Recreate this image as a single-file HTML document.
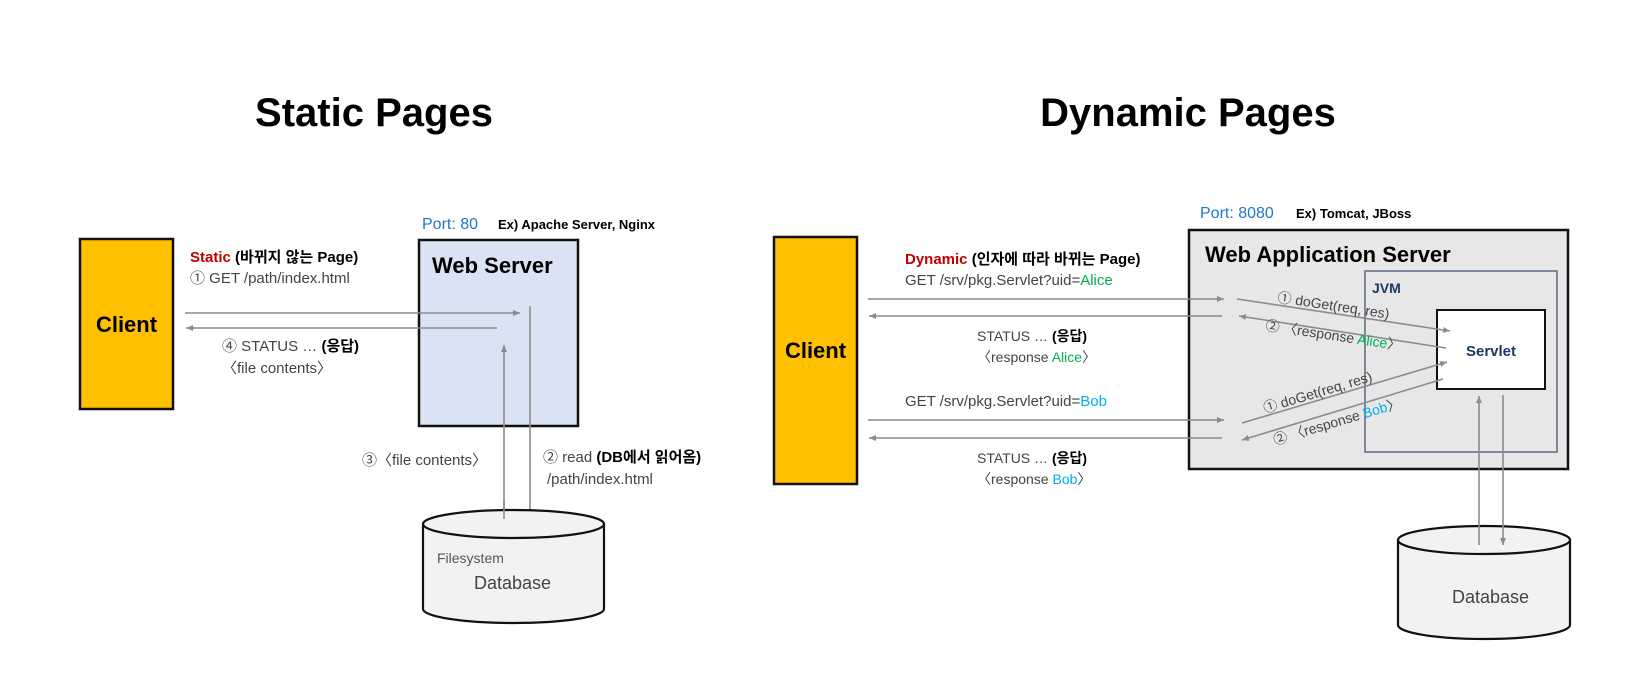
<!DOCTYPE html>
<html><head><meta charset="utf-8"><style>
html,body{margin:0;padding:0;background:#fff;}
svg{display:block;}
text{font-family:"Liberation Sans","Noto Sans CJK KR",sans-serif;}
</style></head><body>
<svg width="1634" height="674" viewBox="0 0 1634 674" xmlns="http://www.w3.org/2000/svg">
<defs>
<marker id="ah" markerWidth="8" markerHeight="8" refX="7" refY="4" orient="auto" markerUnits="userSpaceOnUse">
<path d="M0,1 L7,4 L0,7 z" fill="#8c8c8c"/></marker>
</defs>
<!-- Titles -->
<text x="374" y="126" font-size="40" font-weight="bold" text-anchor="middle" fill="#000">Static Pages</text>
<text x="1188" y="126" font-size="40" font-weight="bold" text-anchor="middle" fill="#000">Dynamic Pages</text>

<!-- STATIC -->
<rect x="80" y="239" width="93" height="170" fill="#ffc000" stroke="#111" stroke-width="2.5"/>
<text x="126.5" y="332" font-size="22" font-weight="bold" text-anchor="middle">Client</text>
<rect x="419" y="240" width="159" height="186" fill="#dae3f3" stroke="#111" stroke-width="2.5"/>
<text x="432" y="273" font-size="22" font-weight="bold">Web Server</text>
<text x="422" y="229" font-size="16" fill="#1f78c8">Port: 80</text>
<text x="498" y="229" font-size="13" font-weight="bold">Ex) Apache Server, Nginx</text>

<text x="190" y="262" font-size="15" font-weight="bold"><tspan fill="#c00000">Static</tspan> (바뀌지 않는 Page)</text>
<text x="190" y="283" font-size="15" fill="#444">① GET /path/index.html</text>
<line x1="185" y1="313" x2="520" y2="313" stroke="#8c8c8c" stroke-width="1.6" marker-end="url(#ah)"/>
<line x1="497" y1="328" x2="186" y2="328" stroke="#8c8c8c" stroke-width="1.6" marker-end="url(#ah)"/>
<text x="222" y="351" font-size="15" fill="#444">④ STATUS … <tspan font-weight="bold" fill="#000">(응답)</tspan></text>
<text x="222" y="373" font-size="15" fill="#444">〈file contents〉</text>
<line x1="530" y1="306" x2="530" y2="519" stroke="#8c8c8c" stroke-width="1.6" marker-end="url(#ah)"/>
<line x1="504" y1="519" x2="504" y2="345" stroke="#8c8c8c" stroke-width="1.6" marker-end="url(#ah)"/>
<text x="362" y="465" font-size="15" fill="#444">③〈file contents〉</text>
<text x="543" y="462" font-size="15" fill="#444">② read <tspan font-weight="bold" fill="#000">(DB에서 읽어옴)</tspan></text>
<text x="547" y="484" font-size="15" fill="#444">/path/index.html</text>
<!-- cylinder static -->
<path d="M423,524 L423,609 A90.5,14 0 0 0 604,609 L604,524" fill="#f2f2f2" stroke="#111" stroke-width="2.2"/>
<ellipse cx="513.5" cy="524" rx="90.5" ry="14" fill="#f2f2f2" stroke="#111" stroke-width="2.2"/>
<line x1="504" y1="500" x2="504" y2="519" stroke="#8c8c8c" stroke-width="1.6"/>
<text x="437" y="563" font-size="14" fill="#555">Filesystem</text>
<text x="474" y="589" font-size="18" fill="#444">Database</text>

<!-- DYNAMIC -->
<rect x="774" y="237" width="83" height="247" fill="#ffc000" stroke="#111" stroke-width="2.5"/>
<text x="815.5" y="358" font-size="22" font-weight="bold" text-anchor="middle">Client</text>
<text x="1200" y="218" font-size="16" fill="#1f78c8">Port: 8080</text>
<text x="1296" y="218" font-size="13" font-weight="bold">Ex) Tomcat, JBoss</text>
<rect x="1189" y="230" width="379" height="239" fill="#e7e7e7" stroke="#111" stroke-width="2.5"/>
<text x="1205" y="262" font-size="22" font-weight="bold">Web Application Server</text>
<rect x="1365" y="271" width="192" height="181" fill="none" stroke="#5a6a80" stroke-width="1.5"/>
<text x="1372" y="293" font-size="14" font-weight="bold" fill="#1f3864">JVM</text>
<rect x="1437" y="310" width="108" height="79" fill="#fff" stroke="#111" stroke-width="2"/>
<text x="1491" y="356" font-size="15" font-weight="bold" fill="#1f3864" text-anchor="middle">Servlet</text>

<text x="905" y="264" font-size="15" font-weight="bold"><tspan fill="#c00000">Dynamic</tspan> (인자에 따라 바뀌는 Page)</text>
<text x="905" y="285" font-size="15" fill="#444">GET /srv/pkg.Servlet?uid=<tspan fill="#00b050">Alice</tspan></text>
<line x1="868" y1="299" x2="1224" y2="299" stroke="#8c8c8c" stroke-width="1.6" marker-end="url(#ah)"/>
<line x1="1222" y1="316" x2="869" y2="316" stroke="#8c8c8c" stroke-width="1.6" marker-end="url(#ah)"/>
<text x="977" y="341" font-size="14" fill="#444">STATUS … <tspan font-weight="bold" fill="#000">(응답)</tspan></text>
<text x="977" y="362" font-size="14" fill="#444">〈response <tspan fill="#00b050">Alice</tspan>〉</text>
<text x="905" y="406" font-size="15" fill="#444">GET /srv/pkg.Servlet?uid=<tspan fill="#00b0f0">Bob</tspan></text>
<line x1="868" y1="420" x2="1224" y2="420" stroke="#8c8c8c" stroke-width="1.6" marker-end="url(#ah)"/>
<line x1="1222" y1="438" x2="869" y2="438" stroke="#8c8c8c" stroke-width="1.6" marker-end="url(#ah)"/>
<text x="977" y="463" font-size="14" fill="#444">STATUS … <tspan font-weight="bold" fill="#000">(응답)</tspan></text>
<text x="977" y="484" font-size="14" fill="#444">〈response <tspan fill="#00b0f0">Bob</tspan>〉</text>

<!-- diagonals -->
<line x1="1237" y1="299" x2="1450" y2="331" stroke="#8c8c8c" stroke-width="1.6" marker-end="url(#ah)"/>
<line x1="1446" y1="348" x2="1239" y2="316" stroke="#8c8c8c" stroke-width="1.6" marker-end="url(#ah)"/>
<line x1="1242" y1="423" x2="1447" y2="362" stroke="#8c8c8c" stroke-width="1.6" marker-end="url(#ah)"/>
<line x1="1443" y1="379" x2="1242" y2="440" stroke="#8c8c8c" stroke-width="1.6" marker-end="url(#ah)"/>
<text transform="translate(1277,302) rotate(8.5)" font-size="14" fill="#444">① doGet(req, res)</text>
<text transform="translate(1265,330) rotate(8.5)" font-size="14" fill="#444">② 〈response <tspan fill="#00b050">Alice</tspan>〉</text>
<text transform="translate(1265,413) rotate(-16.6)" font-size="14" fill="#444">① doGet(req, res)</text>
<text transform="translate(1275,445) rotate(-16.6)" font-size="14" fill="#444">② 〈response <tspan fill="#00b0f0">Bob</tspan>〉</text>

<!-- DB dynamic -->
<path d="M1398,540 L1398,625 A86,14 0 0 0 1570,625 L1570,540" fill="#f2f2f2" stroke="#111" stroke-width="2.2"/>
<ellipse cx="1484" cy="540" rx="86" ry="14" fill="#f2f2f2" stroke="#111" stroke-width="2.2"/>
<line x1="1479" y1="545" x2="1479" y2="396" stroke="#8c8c8c" stroke-width="1.6" marker-end="url(#ah)"/>
<line x1="1503" y1="395" x2="1503" y2="545" stroke="#8c8c8c" stroke-width="1.6" marker-end="url(#ah)"/>
<text x="1452" y="603" font-size="18" fill="#444">Database</text>
</svg>
</body></html>
